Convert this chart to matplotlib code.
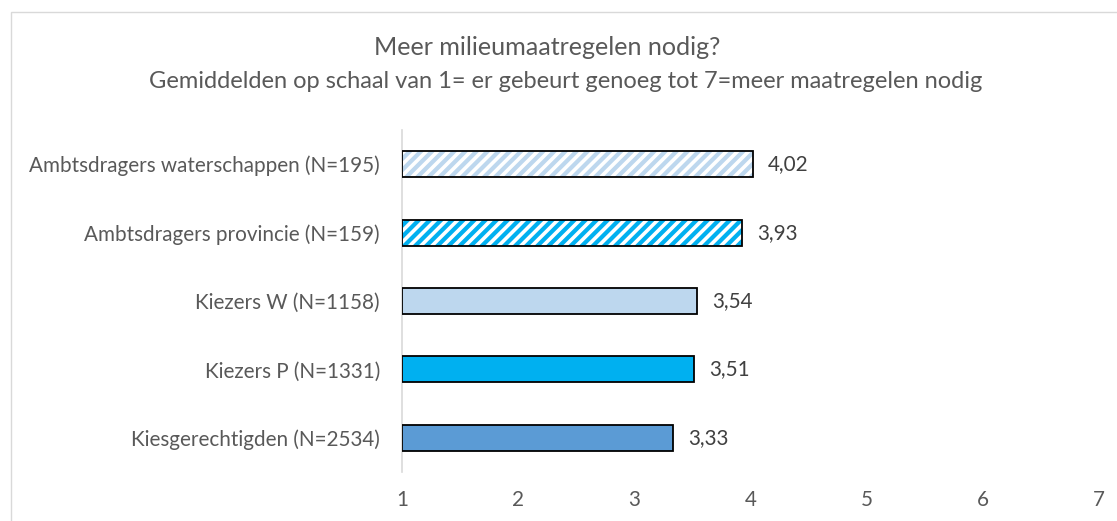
import numpy as np
import matplotlib
matplotlib.use("Agg")
import matplotlib.pyplot as plt
from matplotlib.patches import Rectangle

categories = [
    "Ambtsdragers waterschappen (N=195)",
    "Ambtsdragers provincie (N=159)",
    "Kiezers W (N=1158)",
    "Kiezers P (N=1331)",
    "Kiesgerechtigden (N=2534)",
]
values = [4.02, 3.93, 3.54, 3.51, 3.33]
value_labels = ["4,02", "3,93", "3,54", "3,51", "3,33"]
colors = ["#BDD7EE", "#00B0F0", "#BDD7EE", "#00B0F0", "#5B9BD5"]
hatched = [True, True, False, False, False]
xticks = [1, 2, 3, 4, 5, 6, 7]
title = "Meer milieumaatregelen nodig?"
subtitle = "Gemiddelden op schaal van 1= er gebeurt genoeg tot 7=meer maatregelen nodig"

plt.rcParams["font.family"] = ["Lato", "DejaVu Sans"]
plt.rcParams["hatch.linewidth"] = 2.6

W, H = 1117, 521
DPI = 100
TXT = "#595959"
fig = plt.figure(figsize=(W / DPI, H / DPI), dpi=DPI)
fig.patch.set_facecolor("white")

left, right = 402 / W, 1099 / W
bottom, top = 1 - 472 / H, 1 - 130 / H
ax = fig.add_axes([left, bottom, right - left, top - bottom])

n = len(categories)
y = np.arange(n)[::-1]
vals = np.array(values)
bh = 0.38
for yi, v, c, h in zip(y, vals, colors, hatched):
    if h:
        ax.barh(yi, v - 1, left=1, height=bh, color=c, edgecolor="white",
                hatch="///", linewidth=0, zorder=2)
    else:
        ax.barh(yi, v - 1, left=1, height=bh, color=c, linewidth=0, zorder=2)
    ax.barh(yi, v - 1, left=1, height=bh, fill=False, edgecolor="black",
            linewidth=1.3, zorder=3)

ax.set_xlim(1, 7)
ax.set_ylim(-0.5, n - 0.5)
ax.set_xticks(xticks)
ax.set_xticklabels([str(t) for t in xticks])
ax.set_yticks(y)
ax.set_yticklabels(categories)
ax.tick_params(axis="both", length=0, colors=TXT)
ax.tick_params(axis="x", pad=13)
ax.tick_params(axis="y", pad=16)
for s in ["top", "right", "bottom"]:
    ax.spines[s].set_visible(False)
ax.spines["left"].set_color("#D9D9D9")
ax.spines["left"].set_linewidth(1.2)
ax.set_facecolor("white")

vtexts = []
for yi, v, lab in zip(y, vals, value_labels):
    t = ax.annotate(lab, (v, yi), xytext=(11, 0), textcoords="offset points",
                    va="center", ha="left", color="#404040")
    vtexts.append(t)

t1 = fig.text(547 / W, 1 - 47 / H, title, ha="center", va="center", color=TXT)
t2 = fig.text(566 / W, 1 - 82 / H, subtitle, ha="center", va="center", color=TXT)

fig.patches.append(Rectangle((11 / W, -0.2), 2, (H - 12) / H + 0.2,
                             transform=fig.transFigure, fill=False,
                             edgecolor="#D9D9D9", linewidth=1.0))

# fit text sizes to the measured widths of the reference
fig.canvas.draw()
r = fig.canvas.get_renderer()

def fit(t, target):
    w = t.get_window_extent(r).width
    return t.get_fontsize() * target / w

t1.set_fontsize(fit(t1, 347))
t2.set_fontsize(fit(t2, 837))
lab0 = ax.get_yticklabels()[0]
fs = fit(lab0, 351)
for lab in ax.get_yticklabels() + ax.get_xticklabels():
    lab.set_fontsize(fs)
for t in vtexts:
    t.set_fontsize(fs)

fig.savefig("out.png", dpi=DPI)
